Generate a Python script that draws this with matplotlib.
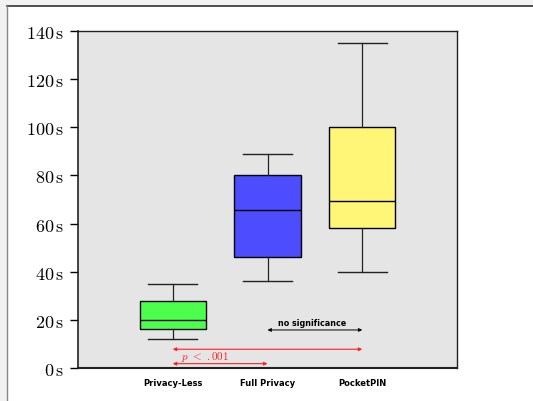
import matplotlib
matplotlib.use("Agg")
import matplotlib.pyplot as plt
from matplotlib.patches import Rectangle

categories = ["Privacy-Less", "Full Privacy", "PocketPIN"]
whislo = [12, 36, 40]
q1 = [16, 46, 58]
med = [20, 65.5, 69.5]
q3 = [28, 80, 100]
whishi = [35, 89, 135]
colors = ["#4dff4d", "#4d4dff", "#fff576"]
yticks = [0, 20, 40, 60, 80, 100, 120, 140]

plt.rcParams['mathtext.fontset'] = 'cm'

fig = plt.figure(figsize=(5.33, 4.02), dpi=100)
fig.patch.set_facecolor("#f2f2f2")
panel = Rectangle((7/533, 0), 1.0, 1 - 7/402, transform=fig.transFigure,
                  facecolor="white", edgecolor="none", zorder=-10)
fig.add_artist(panel)
fig.add_artist(plt.Line2D([7/533, 1], [1 - 7/402, 1 - 7/402], transform=fig.transFigure,
                          color="#333333", lw=1.2, zorder=-9))
fig.add_artist(plt.Line2D([7/533, 7/533], [0, 1 - 7/402], transform=fig.transFigure,
                          color="#888888", lw=1.0, zorder=-9))

ax = fig.add_axes([78/533, 1 - 369/402, (457-78)/533, (369-32)/402])
ax.set_facecolor("#e5e5e5")

stats = []
for i, c in enumerate(categories):
    stats.append(dict(label=c, whislo=whislo[i], q1=q1[i], med=med[i],
                      q3=q3[i], whishi=whishi[i], fliers=[]))
positions = [1, 2, 3]
bp = ax.bxp(stats, positions=positions, widths=0.7, patch_artist=True,
            showfliers=False, capwidths=0.52,
            boxprops=dict(edgecolor="black", linewidth=1.0),
            medianprops=dict(color="black", linewidth=1.0),
            whiskerprops=dict(color="#222222", linewidth=0.9),
            capprops=dict(color="#222222", linewidth=1.0))
for patch, col in zip(bp['boxes'], colors):
    patch.set_facecolor(col)

ax.set_xlim(0, 4)
ax.set_ylim(0, 140)
ax.set_yticks(yticks)
ax.set_yticklabels([r"$%d\,\mathrm{s}$" % v for v in yticks], fontsize=13)
ax.set_xticks(positions)
ax.set_xticklabels(categories, fontsize=6.0, fontweight="bold", family="DejaVu Sans")
ax.tick_params(axis='x', length=0, pad=7)
ax.tick_params(axis='y', length=6, width=1, direction='out', pad=4)
for s in ax.spines.values():
    s.set_color("#222222")
    s.set_linewidth(1.0)
ax.spines['left'].set_linewidth(1.2)
ax.spines['bottom'].set_linewidth(1.5)

# annotations
ax.annotate("", xy=(3, 15.8), xytext=(2, 15.8),
            arrowprops=dict(arrowstyle="<|-|>", color="black", lw=0.7,
                            mutation_scale=5, shrinkA=0, shrinkB=0))
ax.text(2.47, 18.7, "no significance", fontsize=5.8, fontweight="bold",
        ha="center", va="center", family="DejaVu Sans")
ax.annotate("", xy=(3, 7.8), xytext=(1, 7.8),
            arrowprops=dict(arrowstyle="<|-|>", color="#ff2020", lw=0.8,
                            mutation_scale=5, shrinkA=0, shrinkB=0))
ax.annotate("", xy=(2, 1.8), xytext=(1, 1.8),
            arrowprops=dict(arrowstyle="<|-|>", color="#ff2020", lw=0.8,
                            mutation_scale=5, shrinkA=0, shrinkB=0))
ax.text(1.34, 5.0, r"$p\ <\ .001$", fontsize=8, color="#ff2020",
        ha="center", va="center")

fig.savefig("out.png", dpi=100, facecolor=fig.get_facecolor())
